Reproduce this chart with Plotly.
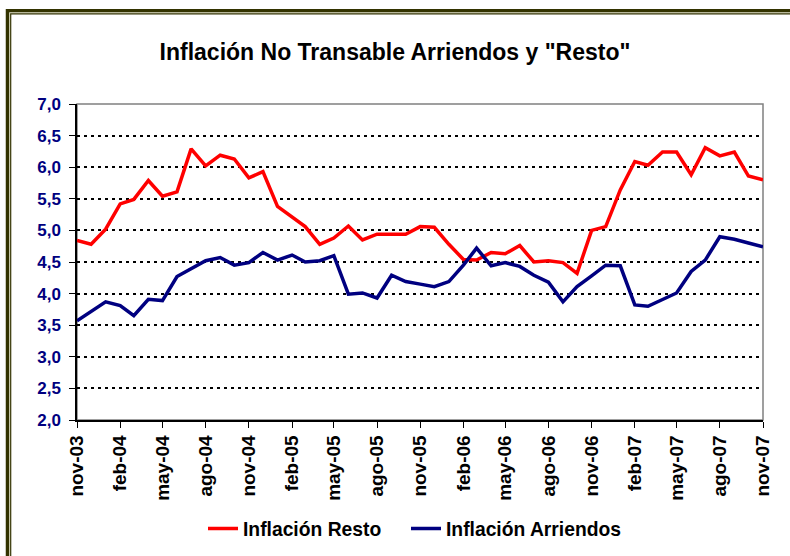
import pandas as pd
import plotly.graph_objects as go

# monthly data, nov-03 .. nov-07
months = pd.date_range("2003-11-01", periods=49, freq="MS")

inflacion_resto = [
    4.84, 4.78, 5.02, 5.42, 5.49, 5.79, 5.54, 5.61, 6.29, 6.02,
    6.19, 6.13, 5.83, 5.93, 5.38, 5.22, 5.06, 4.78, 4.88, 5.07,
    4.85, 4.94, 4.94, 4.94, 5.06, 5.05, 4.78, 4.54, 4.53, 4.65,
    4.63, 4.76, 4.50, 4.52, 4.49, 4.32, 5.00, 5.06, 5.64, 6.09,
    6.03, 6.24, 6.24, 5.88, 6.31, 6.18, 6.24, 5.86, 5.80,
]

inflacion_arriendos = [
    3.57, 3.71, 3.87, 3.81, 3.65, 3.91, 3.89, 4.27, 4.39, 4.52,
    4.57, 4.45, 4.49, 4.65, 4.53, 4.61, 4.50, 4.52, 4.60, 3.99,
    4.01, 3.93, 4.29, 4.19, 4.15, 4.11, 4.19, 4.45, 4.72, 4.44,
    4.49, 4.43, 4.29, 4.18, 3.87, 4.11, 4.28, 4.45, 4.44, 3.82,
    3.80, 3.91, 4.01, 4.35, 4.53, 4.90, 4.86, 4.80, 4.74,
]

tick_labels = ["nov-03", "feb-04", "may-04", "ago-04", "nov-04", "feb-05",
               "may-05", "ago-05", "nov-05", "feb-06", "may-06", "ago-06",
               "nov-06", "feb-07", "may-07", "ago-07", "nov-07"]
tick_dates = months[::3]

W, H = 790, 556
L, R, T, B = 77, 27, 104, 136
PW, PH = W - L - R, H - T - B


def px_x(p):
    return (p - L) / PW


def px_y(p):
    return (H - B - p) / PH


fig = go.Figure()
fig.add_trace(go.Scatter(x=months, y=inflacion_resto, mode="lines",
                         name="Inflación Resto", legend="legend",
                         line=dict(color="#FF0000", width=3.5)))
fig.add_trace(go.Scatter(x=months, y=inflacion_arriendos, mode="lines",
                         name="Inflación Arriendos", legend="legend2",
                         line=dict(color="#000080", width=3.5)))

fig.update_xaxes(
    range=[months[0], months[-1]], automargin=False,
    tickvals=tick_dates, ticktext=tick_labels, tickangle=-90,
    tickfont=dict(family="Arial, Liberation Sans", size=19, color="black", weight="bold"),
    showline=True, linecolor="black", linewidth=1.5,
    ticks="outside", ticklen=6, tickcolor="black",
    showgrid=False, zeroline=False,
)
fig.update_yaxes(
    range=[2, 7], dtick=0.5, tickformat=".1f", automargin=False,
    tickfont=dict(family="Arial, Liberation Sans", size=17, color="#000080", weight="bold"),
    ticklabelstandoff=5,
    showline=True, linecolor="black", linewidth=1.5,
    ticks="outside", ticklen=6, tickcolor="black",
    showgrid=True, gridcolor="black", gridwidth=2, griddash="3px,4px",
    zeroline=False,
)

# grey frame on top/right of plot area, double olive border around the chart
fig.add_shape(type="rect", xref="paper", yref="paper", x0=0, x1=1, y0=0, y1=1,
              line=dict(color="#808080", width=1.5), layer="below")
fig.add_shape(type="rect", xref="paper", yref="paper",
              x0=px_x(7.5), x1=px_x(805), y0=px_y(575), y1=px_y(10.7),
              line=dict(color="#333300", width=3.5))
fig.add_shape(type="rect", xref="paper", yref="paper",
              x0=px_x(9.6), x1=px_x(805), y0=px_y(575), y1=px_y(12.8),
              line=dict(color="#c8c8a8", width=1))
fig.add_shape(type="rect", xref="paper", yref="paper",
              x0=px_x(10.7), x1=px_x(805), y0=px_y(575), y1=px_y(13.9),
              line=dict(color="#333300", width=1.2))

# legends placed in container coordinates so they don't push the plot margins
legend_style = dict(orientation="h", xref="container", yref="container",
                    xanchor="left", y=1 - 529 / H, yanchor="middle",
                    font=dict(size=19.3, color="black", weight="bold"),
                    bgcolor="rgba(0,0,0,0)")

fig.update_layout(
    width=W, height=H,
    margin=dict(l=L, r=R, t=T, b=B),
    separators=",.",
    paper_bgcolor="white", plot_bgcolor="white",
    font=dict(family="Arial, Liberation Sans", color="black"),
    title=dict(text='Inflación No Transable Arriendos y "Resto"',
               x=0.5, xref="container", xanchor="center",
               y=1 - 52 / H, yanchor="middle",
               font=dict(size=23, color="black", weight="bold")),
    legend=dict(x=203 / W, **legend_style),
    legend2=dict(x=406 / W, **legend_style),
    showlegend=True,
)

# drop the page's default body margin so the chart sits at (0, 0)
fig.write_html("out.html", config={"displayModeBar": False},
               post_script="document.body.style.margin='0';")
